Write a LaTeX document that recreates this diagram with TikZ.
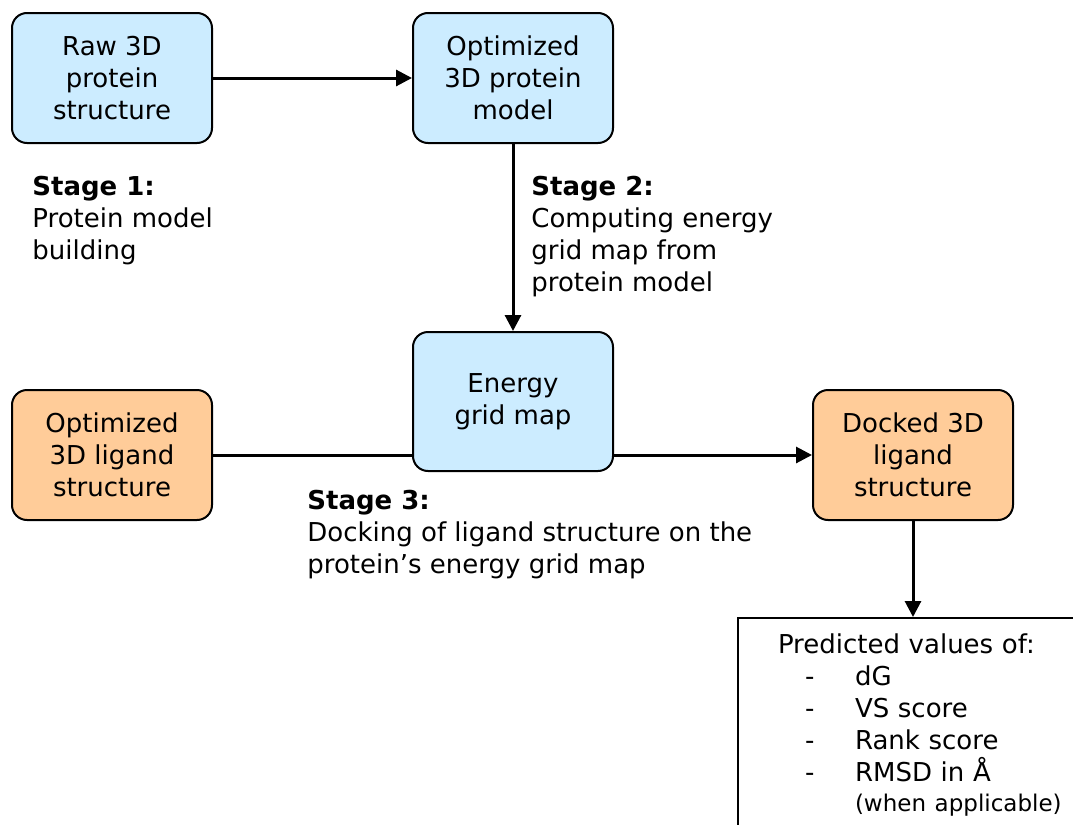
\documentclass[tikz,border=0pt]{standalone}
\usepackage{fontspec}
\setmainfont{DejaVu Sans}
\usetikzlibrary{positioning,arrows.meta}
\definecolor{protblue}{HTML}{CCECFF}
\definecolor{ligorange}{HTML}{FFCC99}

\begin{document}
\begin{tikzpicture}[
    font=\fontsize{13}{16}\selectfont,
    >={Triangle[length=8pt,width=8pt]},
    box/.style={
        draw=black,
        rounded corners=7.5pt,
        align=center,
        line width=1pt,
        inner sep=0pt,
        minimum width=100pt,
        minimum height=65pt
    },
    protein/.style={
        box,
        fill=protblue
    },
    ligand/.style={
        box,
        fill=ligorange
    },
    stage/.style={
        align=left,
        inner sep=0pt
    },
    result/.style={
        draw=black,
        line width=1pt,
        align=left,
        text width=170pt,
        inner xsep=20pt,
        inner ysep=8pt
    },
    link/.style={
        line width=1.5pt
    }
]
\useasboundingbox (0,0) rectangle (536.5pt,-412.5pt);

% Stage 1: protein model building
\node[protein] (raw_prot) at (56pt,-39pt) {Raw 3D\\protein\\structure};
\node[protein, right=99.5pt of raw_prot] (opt_prot) {Optimized\\3D protein\\model};
\node[stage, below=16pt of raw_prot.south west, anchor=north west, xshift=10.5pt] (stage1) {
    \textbf{Stage 1:}\\
    Protein model\\
    building
};

% Stage 2: energy grid map
\node[stage, below=16pt of opt_prot.south, anchor=north west, xshift=9pt] (stage2) {
    \textbf{Stage 2:}\\
    Computing energy\\
    grid map from\\
    protein model
};
\node[protein, below=93.5pt of opt_prot, minimum height=69.5pt] (grid_map) {Energy\\grid map};

% Stage 3: docking
\node[ligand, below=122.5pt of raw_prot] (opt_lig) {Optimized\\3D ligand\\structure};
\node[ligand, right=299.5pt of opt_lig] (dock_lig) {Docked 3D\\ligand\\structure};
\node[stage, below=9pt of grid_map.south west, anchor=north west, xshift=-52.5pt] (stage3) {
    \textbf{Stage 3:}\\
    Docking of ligand structure on the\\
    protein’s energy grid map
};

% Output
\node[result, below=48pt of dock_lig.south west, anchor=north west, xshift=-37.5pt] (predict) {
    Predicted values of:\\
    \hspace*{13.5pt}\makebox[25pt][l]{-}dG\\
    \hspace*{13.5pt}\makebox[25pt][l]{-}VS score\\
    \hspace*{13.5pt}\makebox[25pt][l]{-}Rank score\\
    \hspace*{13.5pt}\makebox[25pt][l]{-}RMSD in Å\\[-1pt]
    \hspace*{38.5pt}{\fontsize{11.5}{14}\selectfont (when applicable)}\rule[-14pt]{0pt}{14pt}
};

% Connections
\draw[->, link] (raw_prot) -- (opt_prot);
\draw[->, link] (opt_prot) -- (grid_map);
\draw[link] (opt_lig) -- (opt_lig -| grid_map.west);
\draw[->, link] (grid_map.east |- dock_lig) -- (dock_lig);
\draw[->, link] (dock_lig) -- (dock_lig |- predict.north);

\end{tikzpicture}
\end{document}
